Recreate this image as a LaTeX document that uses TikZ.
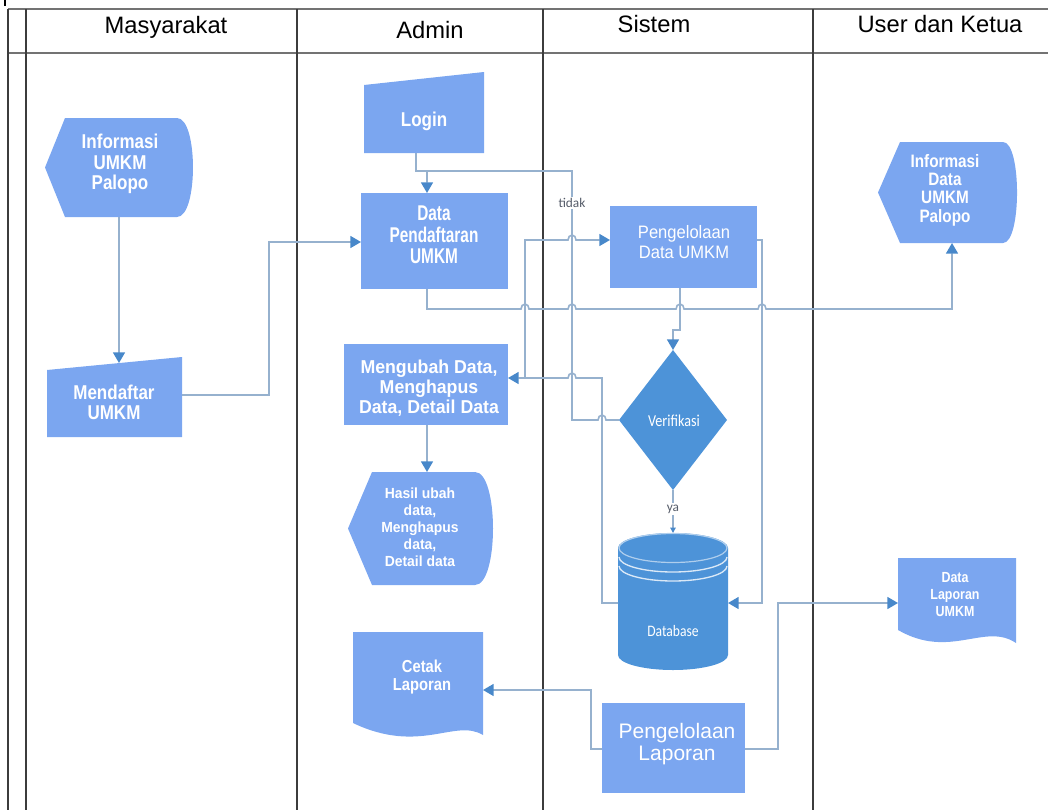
\documentclass[tikz,border=0pt]{standalone}
\usepackage{fontspec}
\setmainfont{Liberation Sans}
\newfontfamily\nbA{Liberation Sans}[FakeStretch=0.72]
\newfontfamily\nbB{Liberation Sans}[FakeStretch=0.85]
\newfontfamily\nbC{Liberation Sans}[FakeStretch=0.95]
\newfontfamily\nrB{Liberation Sans}[FakeStretch=0.92]
\newfontfamily\cbN{Carlito}[FakeStretch=0.85]
\newfontfamily\cbP{Carlito}
\usetikzlibrary{arrows.meta,calc}
\newdimen\pxu \pxu=0.75pt

\definecolor{lightnode}{RGB}{123,166,240}
\definecolor{darknode}{RGB}{77,147,216}
\definecolor{wirecol}{RGB}{150,177,206}
\definecolor{tipblue}{RGB}{72,136,202}
\definecolor{gridh}{RGB}{115,115,115}
\definecolor{gridv}{RGB}{60,60,60}
\definecolor{labelgray}{RGB}{85,92,105}

\pgfdeclarelayer{back}
\pgfsetlayers{back,main}

\tikzset{
  shapebox/.style={draw=none, fill=none, inner sep=0pt, outer sep=0pt},
  flatbox/.style={draw=none, fill=lightnode, inner sep=0pt, outer sep=0pt},
  txt/.style={align=center, text=white, inner sep=0pt},
  hdr/.style={font=\fontsize{17.8}{20}\selectfont, text=black, inner sep=0pt, anchor=base},
  conn/.style={draw=wirecol, line width=1.2pt},
  arr/.style={conn, -{Triangle[length=8pt,width=9pt,color=tipblue]}},
  arrsmall/.style={conn, -{Triangle[length=4pt,width=4pt,color=tipblue]}},
  lbl/.style={fill=white, inner sep=1pt, text=labelgray, font=\cbP\fontsize{10}{11}\selectfont},
  gridhl/.style={draw=gridh, line width=1.2pt},
  gridvl/.style={draw=gridv, line width=0.9pt},
  hop/.style={x radius=4, y radius=5}
}

\begin{document}
\begin{tikzpicture}[x=0.75pt, y=-0.75pt]
\useasboundingbox (0,0) rectangle (1048,810);

% ---- swimlane table ----
\draw[gridhl] (8,9) -- (1048,9);
\draw[gridhl] (8,53) -- (1048,53);
\foreach \lx in {8,26,297,543,813} \draw[gridvl] (\lx,9) -- (\lx,810);
\draw[black, line width=1.6pt] (5,0) -- (5,6);

\node[hdr] (h1) at (166,33) {Masyarakat};
\node[hdr] (h2) at (430,38) {Admin};
\node[hdr] (h3) at (654,32) {Sistem};
\node[hdr] (h4) at (940,32) {User dan Ketua};

% ---- node frames ----
\node[shapebox, minimum width=148*\pxu, minimum height=99*\pxu]  (inf1)  at (119,167.5) {};
\node[shapebox, minimum width=135*\pxu, minimum height=67*\pxu]  (mend)  at (114.5,403.5) {};
\node[shapebox, minimum width=120*\pxu, minimum height=68*\pxu]  (login) at (424,119) {};
\node[flatbox,  minimum width=147*\pxu, minimum height=96*\pxu]  (dp)    at (434.5,241) {};
\node[flatbox,  minimum width=147*\pxu, minimum height=82*\pxu]  (pdu)   at (683.5,247) {};
\node[shapebox, minimum width=139*\pxu, minimum height=101*\pxu] (inf2)  at (947.5,192.5) {};
\node[flatbox,  minimum width=164*\pxu, minimum height=81*\pxu]  (mu)    at (426,384.5) {};
\node[shapebox, minimum width=145*\pxu, minimum height=113*\pxu] (hasil) at (420.5,528.5) {};
\node[shapebox, minimum width=108*\pxu, minimum height=140*\pxu] (ver)   at (673,420) {};
\node[shapebox, minimum width=110*\pxu, minimum height=137*\pxu] (db)    at (673,601.5) {};
\node[shapebox, minimum width=118*\pxu, minimum height=85*\pxu]  (dlu)   at (957,600.5) {};
\node[shapebox, minimum width=130*\pxu, minimum height=106*\pxu] (cl)    at (418,685) {};
\node[flatbox,  minimum width=143*\pxu, minimum height=90*\pxu]  (pl)    at (673.5,748) {};

% ---- shaped symbols ----
\begin{pgfonlayer}{back}
  % display symbols
  \fill[lightnode] (65,118) -- (177,118) .. controls (198.3,118) and (198.3,217) .. (177,217) -- (65,217) -- (45,167.5) -- cycle;
  \fill[lightnode] (900,142) -- (1003,142) .. controls (1021.7,142) and (1021.7,243) .. (1003,243) -- (900,243) -- (878,192.5) -- cycle;
  \fill[lightnode] (372,472) -- (475,472) .. controls (499,472) and (499,585) .. (475,585) -- (372,585) -- (348,528.5) -- cycle;
  % manual inputs
  \fill[lightnode] (47,370) -- (182,357) -- (182,437) -- (47,437) -- cycle;
  \fill[lightnode] (364,85) -- (484,72) -- (484,153) -- (364,153) -- cycle;
  % documents
  \fill[lightnode] (898,558) -- (1016,558) -- (1016,643) .. controls (985,622) and (950,660) .. (898,630) -- cycle;
  \fill[lightnode] (353,632) -- (483,632) -- (483,735) .. controls (455,718) and (420,755) .. (353,723) -- cycle;
  % decision
  \fill[darknode] (673,350) -- (727,420) -- (673,490) -- (619,420) -- cycle;
  % database cylinder
  \fill[darknode] (618,548) -- (618,655) arc[start angle=180, end angle=0, x radius=55, y radius=15] -- (728,548) -- cycle;
  \fill[darknode] (673,548) ellipse[x radius=55, y radius=15];
  \draw[white!55!darknode, line width=0.9pt] (673,548) ellipse[x radius=54, y radius=14.5];
  \draw[white!80!darknode, line width=1pt] (619,557) arc[start angle=180, end angle=0, x radius=54, y radius=15];
  \draw[white!80!darknode, line width=1pt] (619,566) arc[start angle=180, end angle=0, x radius=54, y radius=15];
\end{pgfonlayer}

% ---- texts ----
\node[txt, font=\nbB\bfseries\fontsize{15}{15.5}\selectfont] (t-inf1) at (120,164) {Informasi\\UMKM\\Palopo};
\node[txt, font=\nbB\bfseries\fontsize{15}{15}\selectfont] (t-mend) at (114,402) {Mendaftar\\UMKM};
\node[txt, font=\nbB\bfseries\fontsize{15}{15}\selectfont] (t-login) at (424,121) {Login};
\node[txt, font=\nbA\bfseries\fontsize{16}{16}\selectfont] (t-dp) at (434,235) {Data\\Pendaftaran\\UMKM};
\node[txt, font=\nrB\fontsize{13.5}{15}\selectfont] (t-pdu) at (684,242) {Pengelolaan\\Data UMKM};
\node[txt, font=\nbB\bfseries\fontsize{13.5}{13.7}\selectfont] (t-inf2) at (945,190) {Informasi\\Data\\UMKM\\Palopo};
\node[txt, font=\nbC\bfseries\fontsize{14}{15}\selectfont] (t-mu) at (429,388) {Mengubah Data,\\Menghapus\\Data, Detail Data};
\node[txt, font=\nbC\bfseries\fontsize{11}{12.75}\selectfont] (t-hasil) at (420,527) {Hasil ubah\\data,\\Menghapus\\data,\\Detail data};
\node[txt, font=\cbN\fontsize{12.5}{13}\selectfont] (t-ver) at (674,421) {Verifikasi};
\node[txt, font=\cbN\fontsize{12}{13}\selectfont] (t-db) at (673,631) {Database};
\node[txt, font=\nbB\bfseries\fontsize{11}{12.75}\selectfont] (t-dlu) at (955,595) {Data\\Laporan\\UMKM};
\node[txt, font=\nbB\bfseries\fontsize{13}{14}\selectfont] (t-cl) at (422,677) {Cetak\\Laporan};
\node[txt, font=\fontsize{15.75}{16}\selectfont] (t-pl) at (677,744) {Pengelolaan\\Laporan};

% ---- connectors ----
\coordinate (jmu) at (525,378);

\draw[arr] (inf1.south) -- ($(inf1.south |- mend.north)+(0,-7)$);
\draw[arr] (mend.east |- 0,395) -- (269,395) -- (269,242) -- (dp.west |- 0,242);
\draw[conn] (login.south -| 416,0) -- (416,171) -- (427,171);
\draw[arr] (ver.west) -- (606,420) arc[start angle=0, end angle=-180, hop] -- (572,420) -- (572,171) -- (427,171) -- (dp.north -| 427,0);
\node[lbl] (tidak) at (572,203) {tidak};

\draw[arr] (db.west |- 0,603) -- (602,603) -- (602,378) -- (576,378) arc[start angle=0, end angle=-180, hop] -- (mu.east |- 0,378);
\draw[arr] (jmu) -- (525,240) -- (568,240) arc[start angle=180, end angle=360, hop] -- (pdu.west |- 0,240);
\draw[arr] (pdu.south -| 680,0) -- (680,330) -- (673,330) -- (ver.north);
\draw[arr] (pdu.east |- 0,240) -- (762,240) -- (762,603) -- (db.east |- 0,603);

\draw[arr] (dp.south -| 427,0) -- (427,309)
  -- (521,309) arc[start angle=180, end angle=360, hop]
  -- (568,309) arc[start angle=180, end angle=360, hop]
  -- (676,309) arc[start angle=180, end angle=360, hop]
  -- (758,309) arc[start angle=180, end angle=360, hop]
  -- (952,309) -- (inf2.south -| 952,0);

\draw[arrsmall] (ver.south) -- (db.north);
\node[lbl] (ya) at (673,509) {ya};

\draw[arr] (mu.south -| 427,0) -- (hasil.north -| 427,0);
\draw[arr] (pl.west |- 0,749) -- (591,749) -- (591,690) -- (cl.east |- 0,690);
\draw[arr] (pl.east |- 0,749) -- (778,749) -- (778,603) -- (dlu.west |- 0,603);
\end{tikzpicture}
\end{document}
